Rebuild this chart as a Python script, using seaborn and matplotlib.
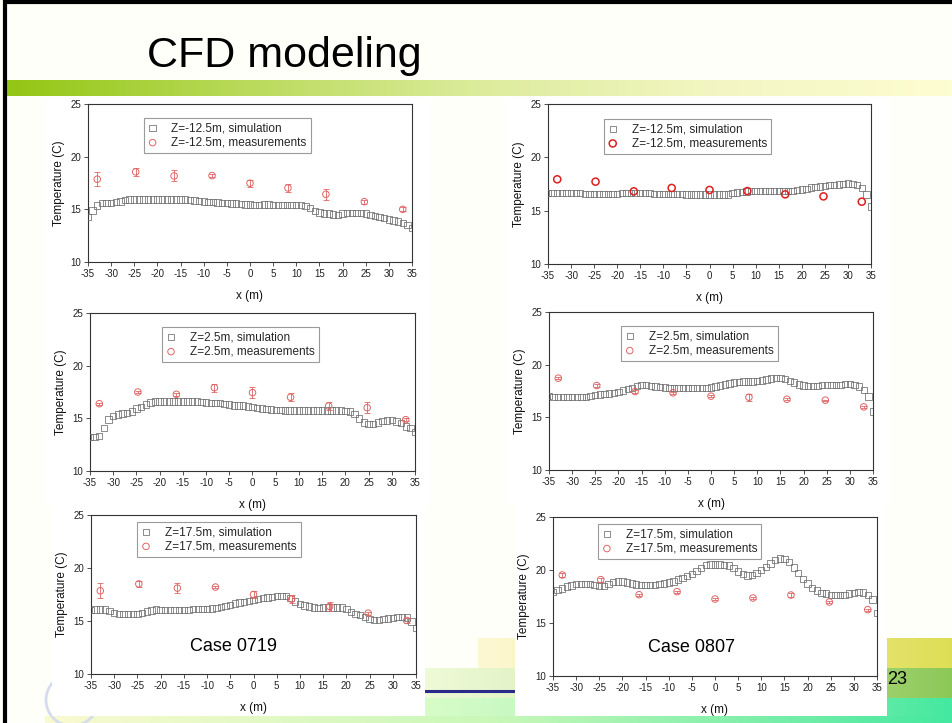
import numpy as np
import matplotlib
matplotlib.use('Agg')
import matplotlib.pyplot as plt
import seaborn as sns
from matplotlib import font_manager
from matplotlib.colors import LinearSegmentedColormap
from matplotlib.patches import Rectangle, Circle

# ---------------- data ----------------
X_SIM = list(range(-35, 36))
MEAS_X = [-33, -24.7, -16.4, -8.2, 0, 8.2, 16.4, 24.7, 33]

# Case 0719, Z=-12.5m
SIM_0719_M125 = [14.3, 14.9, 15.35, 15.6, 15.6, 15.6, 15.7, 15.75, 15.9, 15.95,
                 15.95, 15.95, 15.95, 15.95, 15.95, 15.95, 15.95, 15.95, 15.95, 15.95,
                 15.95, 15.95, 15.9, 15.85, 15.8, 15.75, 15.7, 15.7, 15.65, 15.6,
                 15.6, 15.55, 15.55, 15.5, 15.45, 15.45, 15.4, 15.4, 15.45, 15.45,
                 15.4, 15.4, 15.4, 15.4, 15.4, 15.4, 15.4, 15.3, 15.1, 14.85,
                 14.7, 14.6, 14.6, 14.5, 14.45, 14.6, 14.65, 14.65, 14.65, 14.65,
                 14.6, 14.45, 14.35, 14.3, 14.2, 14.05, 13.95, 13.85, 13.7, 13.5,
                 13.25]
MEAS_0719_M125 = [17.86, 18.56, 18.17, 18.2, 17.48, 17.03, 16.43, 15.73, 15.0]
ERR_0719_M125 = [0.68, 0.35, 0.52, 0.12, 0.33, 0.4, 0.5, 0.2, 0.2]

# Case 0807, Z=-12.5m
SIM_0807_M125 = [16.63, 16.63, 16.63, 16.63, 16.63, 16.63, 16.63, 16.63, 16.56, 16.56,
                 16.56, 16.56, 16.56, 16.56, 16.56, 16.56, 16.65, 16.65, 16.65, 16.65,
                 16.65, 16.65, 16.65, 16.56, 16.56, 16.56, 16.56, 16.56, 16.56, 16.56,
                 16.5, 16.5, 16.5, 16.5, 16.5, 16.5, 16.5, 16.5, 16.5, 16.5,
                 16.63, 16.7, 16.75, 16.8, 16.85, 16.85, 16.85, 16.85, 16.85, 16.85,
                 16.85, 16.85, 16.85, 16.85, 16.94, 17.0, 17.06, 17.16, 17.22, 17.28,
                 17.34, 17.38, 17.4, 17.44, 17.5, 17.53, 17.5, 17.38, 17.1, 16.5,
                 15.4]
MEAS_0807_M125 = [17.94, 17.72, 16.81, 17.13, 16.94, 16.84, 16.53, 16.34, 15.84]
ERR_0807_M125 = [0, 0, 0, 0, 0, 0, 0, 0, 0]

# Case 0719, Z=2.5m
SIM_0719_P25 = [13.23, 13.23, 13.3, 14.1, 14.9, 15.2, 15.35, 15.45, 15.5, 15.66,
                15.92, 16.08, 16.3, 16.52, 16.61, 16.61, 16.61, 16.61, 16.61, 16.61,
                16.61, 16.61, 16.61, 16.61, 16.55, 16.49, 16.46, 16.46, 16.46, 16.36,
                16.3, 16.23, 16.23, 16.23, 16.14, 16.08, 16.0, 15.95, 15.89, 15.85,
                15.82, 15.8, 15.76, 15.76, 15.76, 15.76, 15.76, 15.76, 15.76, 15.76,
                15.76, 15.76, 15.76, 15.76, 15.76, 15.7, 15.66, 15.44, 14.97, 14.62,
                14.49, 14.49, 14.59, 14.75, 14.8, 14.87, 14.71, 14.56, 14.24, 14.11,
                13.7]
MEAS_0719_P25 = [16.39, 17.5, 17.28, 17.91, 17.44, 17.0, 16.17, 16.01, 14.87]
ERR_0719_P25 = [0.1, 0.1, 0.15, 0.38, 0.55, 0.38, 0.42, 0.5, 0.15]

# Case 0807, Z=2.5m
SIM_0807_P25 = [17.04, 16.94, 16.91, 16.91, 16.91, 16.91, 16.91, 16.91, 16.94, 17.04,
                17.1, 17.17, 17.23, 17.26, 17.29, 17.39, 17.55, 17.67, 17.8, 17.96,
                18.05, 18.05, 17.99, 17.93, 17.86, 17.83, 17.77, 17.77, 17.77, 17.77,
                17.77, 17.77, 17.77, 17.77, 17.77, 17.83, 17.93, 18.02, 18.12, 18.21,
                18.31, 18.37, 18.4, 18.4, 18.4, 18.43, 18.5, 18.59, 18.69, 18.75,
                18.72, 18.62, 18.47, 18.31, 18.12, 18.02, 17.96, 17.96, 17.96, 18.05,
                18.09, 18.09, 18.09, 18.09, 18.15, 18.15, 18.05, 17.93, 17.61, 16.98,
                15.55]
MEAS_0807_P25 = [18.72, 18.02, 17.45, 17.33, 17.01, 16.91, 16.72, 16.63, 15.99]
ERR_0807_P25 = [0.1, 0.1, 0.12, 0.1, 0.1, 0.35, 0.1, 0.06, 0.06]

# Case 0719, Z=17.5m
SIM_0719_P175 = [16.03, 16.09, 16.09, 16.09, 15.96, 15.74, 15.68, 15.68, 15.68, 15.68,
                 15.65, 15.74, 15.9, 16.0, 16.09, 16.03, 16.03, 16.03, 16.03, 16.03,
                 16.03, 16.03, 16.12, 16.12, 16.12, 16.12, 16.18, 16.25, 16.34, 16.43,
                 16.53, 16.65, 16.75, 16.81, 16.87, 16.97, 17.06, 17.16, 17.22, 17.28,
                 17.34, 17.34, 17.34, 17.16, 16.84, 16.59, 16.47, 16.37, 16.28, 16.21,
                 16.28, 16.28, 16.28, 16.28, 16.28, 16.12, 15.84, 15.68, 15.59, 15.4,
                 15.18, 15.12, 15.12, 15.18, 15.24, 15.3, 15.37, 15.4, 15.34, 14.96,
                 14.33]
MEAS_0719_P175 = [17.85, 18.5, 18.1, 18.2, 17.5, 17.06, 16.37, 15.74, 15.05]
ERR_0719_P175 = [0.7, 0.32, 0.5, 0.12, 0.3, 0.35, 0.45, 0.15, 0.2]

# Case 0807, Z=17.5m
SIM_0807_P175 = [17.92, 18.11, 18.27, 18.43, 18.55, 18.65, 18.65, 18.65, 18.65, 18.58,
                 18.49, 18.52, 18.65, 18.84, 18.93, 18.9, 18.81, 18.71, 18.62, 18.58,
                 18.58, 18.58, 18.58, 18.65, 18.71, 18.81, 18.93, 19.09, 19.25, 19.43,
                 19.65, 19.91, 20.19, 20.47, 20.53, 20.53, 20.53, 20.5, 20.41, 20.19,
                 19.87, 19.62, 19.47, 19.5, 19.72, 20.0, 20.31, 20.63, 20.94, 21.07,
                 21.04, 20.75, 20.25, 19.72, 19.18, 18.71, 18.3, 18.05, 17.86, 17.77,
                 17.67, 17.67, 17.67, 17.67, 17.77, 17.86, 17.92, 17.89, 17.67, 17.2,
                 15.94]
MEAS_0807_P175 = [19.53, 19.09, 17.67, 17.96, 17.26, 17.36, 17.64, 16.98, 16.26]
ERR_0807_P175 = [0.2, 0.2, 0.1, 0.1, 0.1, 0.1, 0.15, 0.1, 0.1]

X_TICKS = list(range(-35, 36, 5))
Y_TICKS = [10, 15, 20, 25]
TITLE = "CFD modeling"
PAGE = "23"

# ---------------- style ----------------
sns.set_theme(style='ticks')
plt.rcParams['font.family'] = ['Liberation Sans', 'DejaVu Sans']
plt.rcParams['axes.unicode_minus'] = False
_names = {f.name for f in font_manager.fontManager.ttflist}
NARROW = 'Liberation Sans Narrow' if 'Liberation Sans Narrow' in _names else 'Liberation Sans'

W, H = 953, 723
fig = plt.figure(figsize=(W / 100, H / 100), dpi=100, facecolor='#fffffa')

bg = fig.add_axes([0, 0, 1, 1], zorder=0)
bg.axis('off')


def grad(x0, x1, y0, y1, colors, z=1):
    cmap = LinearSegmentedColormap.from_list('g', colors)
    bg.imshow(np.linspace(0, 1, 256)[None, :], cmap=cmap, aspect='auto',
              extent=(x0, x1, y1, y0), zorder=z, interpolation='bilinear')


# title bar
grad(5, W, 80, 96, ['#94c614', '#b9da5a', '#dcec9c', '#f3f6c2', '#fdfdd2'])
# bottom decorations
grad(478, W, 638, 668, ['#fdf8d2', '#f2eea0', '#dede55'])
grad(425, W, 668, 698, ['#eefad8', '#cfe8a8', '#8cc858'])
grad(425, W, 698, 716, ['#d8fcc8', '#a8f4b8', '#44e8a0'])
grad(45, W, 716, H, ['#fafad0', '#c8f8b8', '#44e8a0'])
bg.plot([425, 600], [691, 691], color='#2a2a8a', lw=2.2, zorder=2)
bg.add_patch(Circle((72, 700), 26, fill=False, edgecolor='#d4dcee', lw=2, zorder=2))
# black frame
bg.plot([5, 5], [0, H], color='black', lw=3, zorder=5)
bg.plot([5, W], [1.5, 1.5], color='black', lw=3, zorder=5)
# white picture panels
for (x0, x1, y0, y1) in [(45, 430, 97, 305), (505, 890, 97, 305),
                         (45, 430, 305, 505), (505, 890, 305, 505),
                         (52, 425, 505, 716), (515, 887, 505, 716)]:
    bg.add_patch(Rectangle((x0, y0), x1 - x0, y1 - y0, facecolor='white',
                           edgecolor='none', zorder=3))
bg.set_xlim(0, W)
bg.set_ylim(H, 0)

fig.text(147 / W, 1 - 67 / H, TITLE, fontsize=31, va='baseline', ha='left', color='black')
fig.text(887 / W, 1 - 680 / H, PAGE, fontsize=13, va='center', ha='left', color='black')


def panel(rect, sim, meas, err, zlab, red, leg_xy, bold=False, case=None, case_xy=None):
    l, r, t, b = rect
    ax = fig.add_axes([l / W, 1 - b / H, (r - l) / W, (b - t) / H], zorder=4)
    ax.set_facecolor('white')
    sns.scatterplot(x=X_SIM, y=sim, ax=ax, marker='s', s=21, facecolor='none',
                    edgecolor='#6e6e6e', linewidth=0.55, label=f'{zlab}, simulation',
                    legend=False, zorder=3)
    if any(e > 0 for e in err):
        ax.errorbar(MEAS_X, meas, yerr=err, fmt='none', ecolor=red, elinewidth=0.6,
                    capsize=2, capthick=0.6, zorder=4)
    sns.scatterplot(x=MEAS_X, y=meas, ax=ax, marker='o', s=26 if bold else 22,
                    facecolor='none', edgecolor=red, linewidth=1.1 if bold else 0.7,
                    label=f'{zlab}, measurements', legend=False, zorder=5)
    ax.set_xlim(-35, 35)
    ax.set_ylim(10, 25)
    ax.set_xticks(X_TICKS)
    ax.set_yticks(Y_TICKS)
    ax.set_xticklabels([str(v) for v in X_TICKS])
    ax.set_yticklabels([str(v) for v in Y_TICKS])
    ax.tick_params(direction='out', length=3, width=0.6, pad=2, labelsize=7,
                   colors='#333333')
    for lab in ax.get_xticklabels() + ax.get_yticklabels():
        lab.set_family([NARROW, 'DejaVu Sans'])
        lab.set_color('#222222')
    for sp in ax.spines.values():
        sp.set_visible(True)
        sp.set_linewidth(0.8)
        sp.set_color('#333333')
    ax.set_xlabel('x (m)', fontsize=8.5, labelpad=8, color='#111111')
    ax.set_ylabel('Temperature (C)', fontsize=8.5, labelpad=4, color='#111111')
    leg = ax.legend(loc='upper left', bbox_to_anchor=leg_xy, borderaxespad=0,
                    fontsize=8.5, frameon=True, fancybox=False, edgecolor='#9a9a9a',
                    framealpha=1, handlelength=0.8, handletextpad=1.2, borderpad=0.35,
                    labelspacing=0.2)
    leg.get_frame().set_linewidth(0.8)
    if case:
        ax.text(case_xy[0], case_xy[1], case, transform=ax.transAxes, ha='center',
                va='center', fontsize=13, color='black')
    return ax


LIGHT_RED = '#e06464'
BOLD_RED = '#dd2020'

panel((88, 412, 104, 262), SIM_0719_M125, MEAS_0719_M125, ERR_0719_M125, 'Z=-12.5m',
      LIGHT_RED, (0.172, 0.91))
panel((548, 871, 104, 264), SIM_0807_M125, MEAS_0807_M125, ERR_0807_M125, 'Z=-12.5m',
      BOLD_RED, (0.173, 0.906), bold=True)
panel((90, 415, 313, 471), SIM_0719_P25, MEAS_0719_P25, ERR_0719_P25, 'Z=2.5m',
      LIGHT_RED, (0.222, 0.91))
panel((549, 873, 312, 470), SIM_0807_P25, MEAS_0807_P25, ERR_0807_P25, 'Z=2.5m',
      LIGHT_RED, (0.222, 0.91))
panel((91, 416, 515, 674), SIM_0719_P175, MEAS_0719_P175, ERR_0719_P175, 'Z=17.5m',
      LIGHT_RED, (0.142, 0.956), case='Case 0719', case_xy=(0.437, 0.17))
panel((553, 877, 517, 676), SIM_0807_P175, MEAS_0807_P175, ERR_0807_P175, 'Z=17.5m',
      LIGHT_RED, (0.139, 0.955), case='Case 0807', case_xy=(0.426, 0.182))

fig.savefig('out.png', dpi=100, facecolor=fig.get_facecolor())
